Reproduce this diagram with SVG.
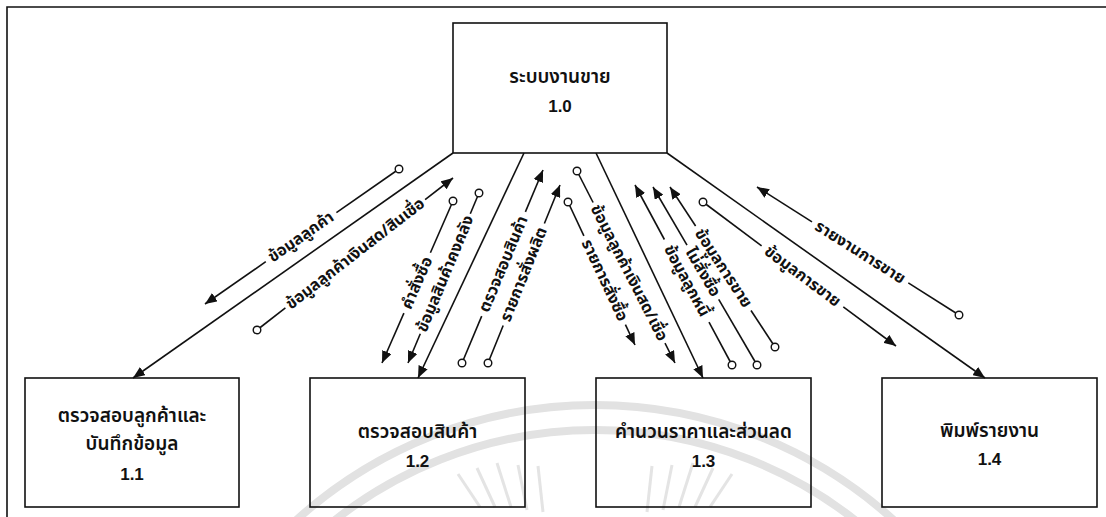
<svg xmlns="http://www.w3.org/2000/svg" width="1106" height="517" viewBox="0 0 1106 517">
<style>
  .frame{stroke:#111;stroke-width:1.6;fill:none}
  .box{fill:none;stroke:#111;stroke-width:1.6}
  .lbl{font-family:"Noto Sans Thai","Loma","Garuda","Tlwg Typo","DejaVu Sans",sans-serif;font-size:19px;font-weight:600;fill:#111;text-anchor:middle}
  .num{font-family:"Liberation Sans",Arial,sans-serif;font-size:17px;font-weight:bold;fill:#111;text-anchor:middle}
  .flow{fill:none;stroke:#111;stroke-width:1.6}
  .ftxt{font-family:"Noto Sans Thai","Loma","Garuda","Tlwg Typo","DejaVu Sans",sans-serif;font-size:16px;font-weight:bold;fill:#111;text-anchor:middle;dominant-baseline:central}
  .wm{fill:none;stroke:#e2e2e2;stroke-width:8}
  .ray{stroke:#e4e4e4;stroke-width:3}
</style>
<defs>
  <marker id="arr" viewBox="0 0 12 10" refX="12" refY="5" markerWidth="12" markerHeight="10" markerUnits="userSpaceOnUse" orient="auto">
    <path d="M0,0 L12,5 L0,10 z" fill="#111"/>
  </marker>
  <marker id="dot" viewBox="0 0 10 10" refX="5" refY="5" markerWidth="10" markerHeight="10" markerUnits="userSpaceOnUse">
    <circle cx="5" cy="5" r="3.8" fill="#fff" stroke="#111" stroke-width="1.4"/>
  </marker>
</defs>
<rect width="1106" height="517" fill="#fff"/>
<g id="watermark">
  <circle class="wm" cx="595" cy="850" r="445"/>
  <circle class="wm" cx="595" cy="850" r="420"/>
  <g class="ray">
    <line x1="480" y1="507" x2="458" y2="474"/>
    <line x1="495" y1="507" x2="477" y2="468"/>
    <line x1="511" y1="507" x2="497" y2="463"/>
    <line x1="527" y1="510" x2="518" y2="465"/>
    <line x1="543" y1="512" x2="538" y2="466"/>
    <line x1="647" y1="512" x2="652" y2="466"/>
    <line x1="663" y1="510" x2="672" y2="465"/>
    <line x1="679" y1="507" x2="693" y2="463"/>
    <line x1="695" y1="507" x2="713" y2="468"/>
    <line x1="710" y1="507" x2="732" y2="474"/>
  </g>
</g>
<g id="frame">
  <path class="frame" d="M7,517 L7,7 L1106,7"/>
</g>
<g id="connectors">
  <line class="flow" x1="453" y1="153" x2="133" y2="378" marker-end="url(#arr)"/>
  <line class="flow" x1="524" y1="153" x2="418" y2="378" marker-end="url(#arr)"/>
  <line class="flow" x1="596" y1="153" x2="703" y2="378" marker-end="url(#arr)"/>
  <line class="flow" x1="667" y1="153" x2="985" y2="378" marker-end="url(#arr)"/>
  <line class="flow" x1="399" y1="169" x2="336.4" y2="212.6" marker-start="url(#dot)"/>
  <line class="flow" x1="265.8" y1="261.7" x2="205" y2="304" marker-end="url(#arr)"/>
  <text class="ftxt" transform="translate(301,237) rotate(-34.8)">ข้อมูลลูกค้า</text>
  <line class="flow" x1="257" y1="330" x2="285.4" y2="307.9" marker-start="url(#dot)"/>
  <line class="flow" x1="425.1" y1="199.6" x2="453" y2="178" marker-end="url(#arr)"/>
  <text class="ftxt" transform="translate(355.3,253.7) rotate(-37.8)">ข้อมูลลูกค้าเงินสด/สินเชื่อ</text>
  <line class="flow" x1="453" y1="201" x2="430.4" y2="252.7" marker-start="url(#dot)"/>
  <line class="flow" x1="403.9" y1="313.1" x2="382" y2="363" marker-end="url(#arr)"/>
  <text class="ftxt" transform="translate(417.1,282.9) rotate(-66.4)">คำสั่งซื้อ</text>
  <line class="flow" x1="479" y1="193" x2="470.3" y2="213.8" marker-start="url(#dot)"/>
  <line class="flow" x1="420.3" y1="333.8" x2="408" y2="363" marker-end="url(#arr)"/>
  <text class="ftxt" transform="translate(445.3,273.8) rotate(-67.4)">ข้อมูลสินค้าคงคลัง</text>
  <line class="flow" x1="462" y1="363" x2="481.7" y2="316.1" marker-start="url(#dot)"/>
  <line class="flow" x1="525.4" y1="211.9" x2="543" y2="170" marker-end="url(#arr)"/>
  <text class="ftxt" transform="translate(503.6,264) rotate(-67.2)">ตรวจสอบสินค้า</text>
  <line class="flow" x1="488" y1="363" x2="503.2" y2="325.5" marker-start="url(#dot)"/>
  <line class="flow" x1="544.4" y1="223.5" x2="560" y2="185" marker-end="url(#arr)"/>
  <text class="ftxt" transform="translate(523.8,274.5) rotate(-68)">รายการสั่งผลิต</text>
  <line class="flow" x1="577" y1="171" x2="593.1" y2="202.5" marker-start="url(#dot)"/>
  <line class="flow" x1="665" y1="343.2" x2="675" y2="363" marker-end="url(#arr)"/>
  <text class="ftxt" transform="translate(629,272.8) rotate(62.9)">ข้อมูลลูกค้าเงินสด/เชื่อ</text>
  <line class="flow" x1="568" y1="202" x2="583.9" y2="235.9" marker-start="url(#dot)"/>
  <line class="flow" x1="625.4" y1="324.7" x2="635" y2="345" marker-end="url(#arr)"/>
  <text class="ftxt" transform="translate(604.6,280.3) rotate(64.9)">รายการสั่งซื้อ</text>
  <line class="flow" x1="732" y1="365" x2="709" y2="322.2" marker-start="url(#dot)"/>
  <line class="flow" x1="664.4" y1="239.5" x2="635" y2="185" marker-end="url(#arr)"/>
  <text class="ftxt" transform="translate(686.7,280.9) rotate(61.7)">ข้อมูลลูกหนี้</text>
  <line class="flow" x1="757" y1="365" x2="718.7" y2="299.4" marker-start="url(#dot)"/>
  <line class="flow" x1="687" y1="245.2" x2="653" y2="187" marker-end="url(#arr)"/>
  <text class="ftxt" transform="translate(702.9,272.3) rotate(59.7)">ไม่สั่งซื้อ</text>
  <line class="flow" x1="775" y1="347" x2="751" y2="310.5" marker-start="url(#dot)"/>
  <line class="flow" x1="695.6" y1="226" x2="670" y2="187" marker-end="url(#arr)"/>
  <text class="ftxt" transform="translate(723.3,268.2) rotate(56.7)">ข้อมูลการขาย</text>
  <line class="flow" x1="703" y1="202" x2="761.6" y2="245.8" marker-start="url(#dot)"/>
  <line class="flow" x1="843.3" y1="306.8" x2="896" y2="346" marker-end="url(#arr)"/>
  <text class="ftxt" transform="translate(802.5,276.3) rotate(36.7)">ข้อมูลการขาย</text>
  <line class="flow" x1="959" y1="315" x2="908.3" y2="282.9" marker-start="url(#dot)"/>
  <line class="flow" x1="812" y1="221.9" x2="757" y2="187" marker-end="url(#arr)"/>
  <text class="ftxt" transform="translate(860.1,252.4) rotate(32.3)">รายงานการขาย</text>
</g>
<g id="node-1-0">
  <rect class="box" x="453" y="23" width="214" height="130"/>
  <text class="lbl" x="560" y="83">ระบบงานขาย</text>
  <text class="num" x="560" y="112">1.0</text>
</g>
<g id="node-1-1">
  <rect class="box" x="25" y="378" width="214" height="129"/>
  <text class="lbl" x="132" y="422">ตรวจสอบลูกค้าและ</text>
  <text class="lbl" x="132" y="450">บันทึกข้อมูล</text>
  <text class="num" x="132" y="480">1.1</text>
</g>
<g id="node-1-2">
  <rect class="box" x="310" y="378" width="215" height="129"/>
  <text class="lbl" x="417.5" y="438">ตรวจสอบสินค้า</text>
  <text class="num" x="417.5" y="467">1.2</text>
</g>
<g id="node-1-3">
  <rect class="box" x="596" y="378" width="215" height="129"/>
  <text class="lbl" x="703.5" y="438">คำนวนราคาและส่วนลด</text>
  <text class="num" x="703.5" y="467">1.3</text>
</g>
<g id="node-1-4">
  <rect class="box" x="882" y="378" width="215" height="129"/>
  <text class="lbl" x="989.5" y="437">พิมพ์รายงาน</text>
  <text class="num" x="989.5" y="465">1.4</text>
</g>
</svg>
